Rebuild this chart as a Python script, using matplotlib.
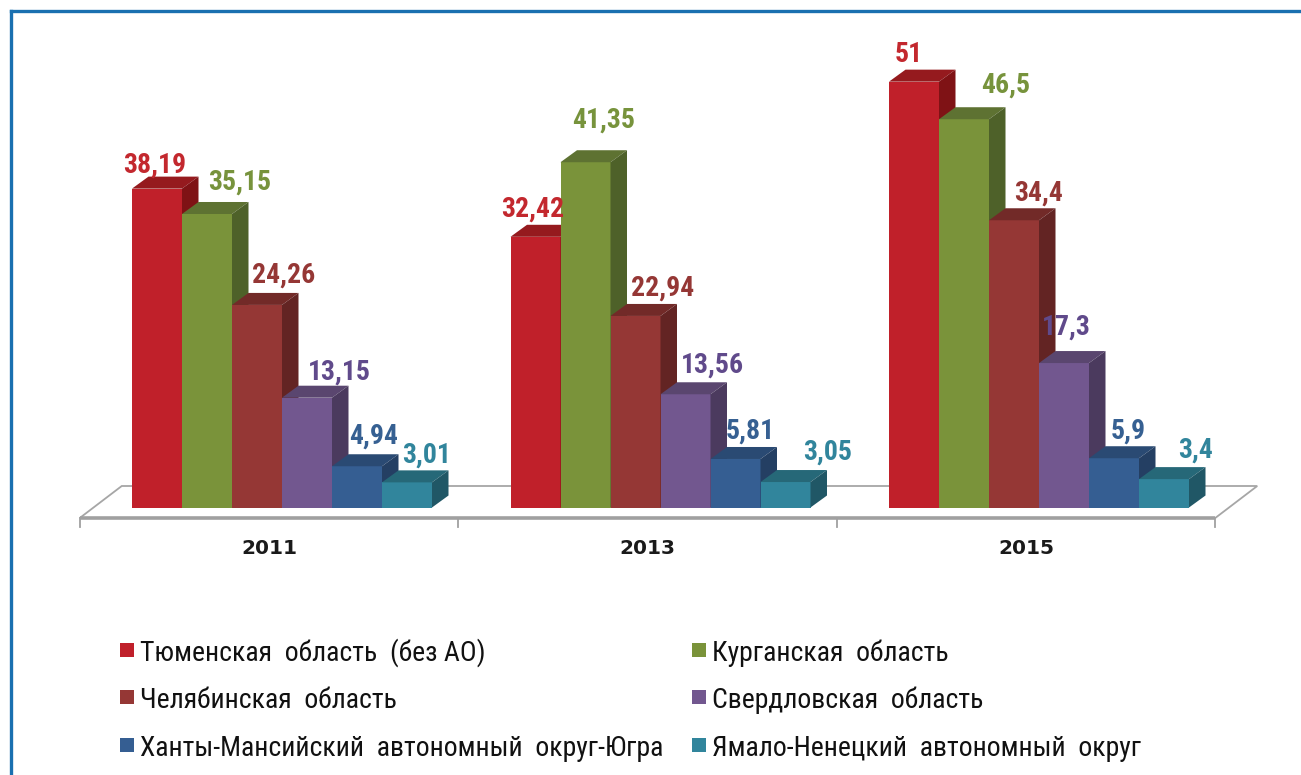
import matplotlib
matplotlib.use('Agg')
import matplotlib.pyplot as plt
from matplotlib import font_manager as fm
from matplotlib.patches import Polygon, Rectangle
from matplotlib.lines import Line2D

# data
years = ['2011', '2013', '2015']
regions = [
    'Тюменская  область  (без АО)',
    'Курганская  область',
    'Челябинская  область',
    'Свердловская  область',
    'Ханты-Мансийский  автономный  округ-Югра',
    'Ямало-Ненецкий  автономный  округ',
]
values = [
    [38.19, 35.15, 24.26, 13.15, 4.94, 3.01],   # 2011
    [32.42, 41.35, 22.94, 13.56, 5.81, 3.05],   # 2013
    [51.0, 46.5, 34.4, 17.3, 5.9, 3.4],         # 2015
]
value_labels = [
    ['38,19', '35,15', '24,26', '13,15', '4,94', '3,01'],
    ['32,42', '41,35', '22,94', '13,56', '5,81', '3,05'],
    ['51', '46,5', '34,4', '17,3', '5,9', '3,4'],
]

# colours: front, top, side, label
front = ['#C0202A', '#7A933A', '#953735', '#72578F', '#355E92', '#31859C']
top = ['#951A1E', '#5E7232', '#722A28', '#5A466F', '#2A4A73', '#266878']
side = ['#7F1215', '#4E6129', '#632423', '#4B3A5E', '#243F63', '#205766']
label_col = ['#C3282E', '#77933C', '#953735', '#604A8B', '#366092', '#31859C']

# label nudges in pixels (x from bar centre, gap above bar top) as placed in the source
nudge = [
    [(-2, 16), (33, 24), (27, 22), (32, 18), (17, 23), (20, 20)],
    [(-3, 20), (18, 35), (27, 20), (27, 22), (15, 20), (42, 22)],
    [(-5, 20), (42, 27), (25, 20), (2, 28), (14, 20), (32, 21)],
]


def pick(*names):
    avail = {f.name for f in fm.fontManager.ttflist}
    for n in names:
        if n in avail:
            return n
    return 'DejaVu Sans'


narrow = pick('Liberation Sans Narrow', 'Arial Narrow', 'Roboto Condensed', 'DejaVu Sans Condensed', 'Liberation Sans')

W, H = 1301, 775
fig = plt.figure(figsize=(W / 100, H / 100), dpi=100)
ax = fig.add_axes([0, 0, 1, 1])
ax.set_axis_off()

PX_X = 378.5          # pixels per category
PX_Y = 8.35           # pixels per value unit
X0, Y0 = 269, 507.5   # pixel position of category 0 / baseline
ax.set_xlim(-X0 / PX_X, (W - X0) / PX_X)
ax.set_ylim(-(H - Y0) / PX_Y, Y0 / PX_Y)


def px(dx=0, dy=0):
    return dx / PX_X, dy / PX_Y


bar_w, _ = px(50)
dep_x, dep_y = px(16.5, 12)
start, _ = px(-137)

# floor
fx, fy = px(42, 32)
f_front = px(0, -10.5)[1]
n = len(years)
floor = Polygon([(-0.5, f_front), (n - 0.5, f_front), (n - 0.5 + fx, f_front + fy),
                 (-0.5 + fx, f_front + fy)], closed=True, facecolor='white',
                edgecolor='#A6A6A6', lw=1.3, zorder=1)
ax.add_patch(floor)
ax.plot([-0.5, n - 0.5], [f_front, f_front], color='#A0A0A0', lw=2.6, zorder=1.5,
        solid_capstyle='butt')
tick_len = px(0, 9)[1]
for k in range(n + 1):
    ax.plot([k - 0.5, k - 0.5], [f_front, f_front - tick_len], color='#A0A0A0', lw=1.3, zorder=1.5)

# bars
z = 2
for i, row in enumerate(values):
    for j, v in enumerate(row):
        x = i + start + j * bar_w
        ax.add_patch(Rectangle((x, 0), bar_w, v, facecolor=front[j], edgecolor='none', zorder=z))
        ax.add_patch(Polygon([(x, v), (x + bar_w, v), (x + bar_w + dep_x, v + dep_y), (x + dep_x, v + dep_y)],
                             closed=True, facecolor=top[j], edgecolor='none', zorder=z))
        ax.add_patch(Polygon([(x + bar_w, 0), (x + bar_w + dep_x, dep_y), (x + bar_w + dep_x, v + dep_y),
                              (x + bar_w, v)], closed=True, facecolor=side[j], edgecolor='none', zorder=z))
        z += 0.01
        nx, ny = px(*nudge[i][j])
        ax.text(x + bar_w / 2 + nx, v + ny, value_labels[i][j], ha='center', va='baseline',
                color=label_col[j], fontsize=20, fontweight='bold', family=narrow, zorder=10)

# category labels
for i, yr in enumerate(years):
    ax.text(i, f_front - px(0, 31)[1], yr, ha='center', va='center', fontsize=14.5,
            fontweight='bold', color='#1A1A1A', family='DejaVu Sans')

# legend
rows_y = [650, 697, 745]
cols_x = [120, 692]
for k, name in enumerate(regions):
    c, r = k % 2, k // 2
    sx, sy = cols_x[c], rows_y[r]
    fig.add_artist(Rectangle((sx / W, 1 - (sy + 7) / H), 14 / W, 14 / H, transform=fig.transFigure,
                             facecolor=front[k], edgecolor='none'))
    fig.text((sx + 20) / W, 1 - (sy + 11) / H, name, ha='left', va='baseline', fontsize=20,
             color='#111111', family=narrow)

# frame
fig.add_artist(Line2D([10.5 / W, 1], [1 - 10.5 / H, 1 - 10.5 / H], transform=fig.transFigure,
                      color='#1A70B0', lw=2.4))
fig.add_artist(Line2D([10.5 / W, 10.5 / W], [0, 1 - 10.5 / H], transform=fig.transFigure,
                      color='#1A70B0', lw=2.4))

fig.savefig('out.png', dpi=100)
